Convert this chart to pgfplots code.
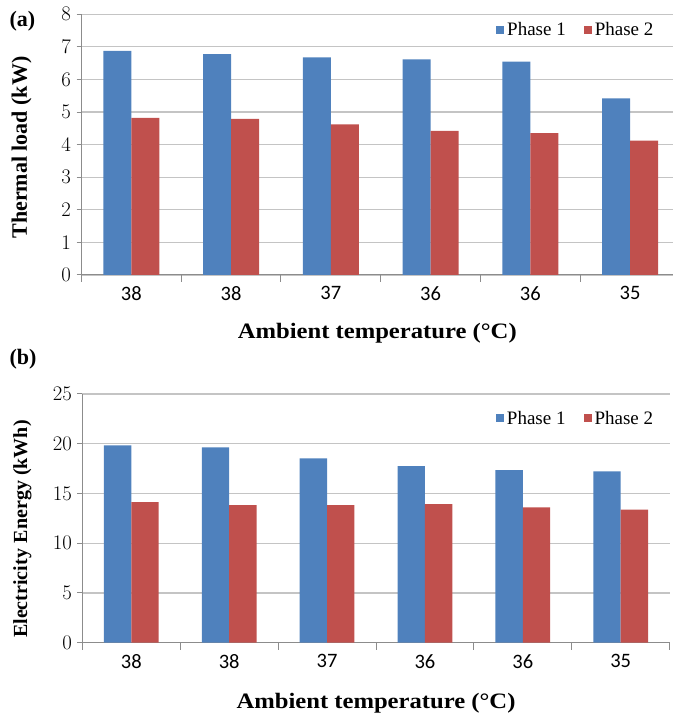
\documentclass[border=0pt]{standalone}
\usepackage{fontspec}
\setmainfont{Liberation Serif}
\newfontfamily\carlito{Carlito}
\usepackage{pgfplots}
\pgfplotsset{compat=1.18}
\definecolor{pblue}{HTML}{4F81BD}
\definecolor{pred}{HTML}{C0504D}
\definecolor{gridc}{HTML}{C4C4C4}
\definecolor{axc}{HTML}{8C8C8C}
\pgfplotsset{
  excelbar/.style={
    ybar=0pt, bar width=0.28, scale only axis, anchor=south west,
    xmin=-0.5,
    xtick={0,...,5}, xticklabels={38,38,37,36,36,35},
    minor xtick={-0.5,0.5,...,5.5},
    major x tick style={draw=none},
    minor tick length=7pt, major tick length=5pt,
    tick align=outside,
    tick style={axc, line width=1pt},
    ymin=0, ymajorgrids, grid style={gridc, line width=1.2pt},
    axis x line*=bottom, axis y line*=left,
    axis line style={axc, line width=1pt, -},
    ticklabel style={font=\carlito\fontsize{20.5pt}{20.5pt}\selectfont},
    xticklabel style={anchor=north, yshift=-3pt},
    yticklabel style={anchor=east, xshift=-2pt},
    xlabel style={font=\bfseries\fontsize{22pt}{22pt}\selectfont\addfontfeatures{FakeStretch=1.12}},
    legend columns=2,
    legend style={draw=none, fill=none, inner sep=0pt, anchor=west,
      nodes={inner sep=0pt, font=\fontsize{19pt}{19pt}\selectfont},
      /tikz/every odd column/.append style={column sep=3pt},
      /tikz/every even column/.append style={column sep=18pt}},
    every axis plot post/.append style={legend image code/.code={\fill[##1,draw=none] (0pt,-4pt) rectangle (8pt,4pt);}},
  }
}
\begin{document}
\begin{tikzpicture}[x=1pt,y=1pt]
\useasboundingbox (0,0) rectangle (673,717);
\begin{axis}[excelbar,
  at={(81.5pt,442pt)}, width=591.5pt, height=260.7pt,
  xmax=5.43, ymax=8, ytick={0,...,8},
  xlabel={Ambient temperature (\textdegree C)},
  ylabel={Thermal load (kW)},
  xlabel style={at={(axis description cs:0.5,-0.2225)}, anchor=center},
  ylabel style={at={(axis description cs:-0.1014,0.489)}, anchor=center, font=\bfseries\fontsize{22pt}{22pt}\selectfont},
  legend style={at={(axis description cs:0.7008,0.94)}},
]
\addplot[fill=pblue, draw=none] coordinates {(0,6.88) (1,6.78) (2,6.68) (3,6.62) (4,6.55) (5,5.42)};
\addplot[fill=pred, draw=none] coordinates {(0,4.82) (1,4.79) (2,4.62) (3,4.42) (4,4.35) (5,4.12)};
\legend{Phase 1,Phase 2}
\end{axis}
\begin{axis}[excelbar,
  at={(82.4pt,74.3pt)}, width=587.2pt, height=248.7pt,
  xmax=5.5, ymax=25, ytick={0,5,...,25},
  xlabel={Ambient temperature (\textdegree C)},
  ylabel={Electricity\hspace{6pt}Energy (kWh)},
  xlabel style={at={(axis description cs:0.5,-0.2425)}, anchor=center},
  ylabel style={at={(axis description cs:-0.102,0.457)}, anchor=center, font=\bfseries\fontsize{20pt}{20pt}\selectfont},
  legend style={at={(axis description cs:0.704,0.902)}},
]
\addplot[fill=pblue, draw=none] coordinates {(0,19.84) (1,19.64) (2,18.53) (3,17.76) (4,17.36) (5,17.22)};
\addplot[fill=pred, draw=none] coordinates {(0,14.14) (1,13.84) (2,13.84) (3,13.94) (4,13.6) (5,13.37)};
\legend{Phase 1,Phase 2}
\end{axis}
\node[font=\bfseries\fontsize{22pt}{22pt}\selectfont, anchor=west] at (6,695.5) {(a)};
\node[font=\bfseries\fontsize{22pt}{22pt}\selectfont, anchor=west] at (6,358) {(b)};
\end{tikzpicture}
\end{document}
